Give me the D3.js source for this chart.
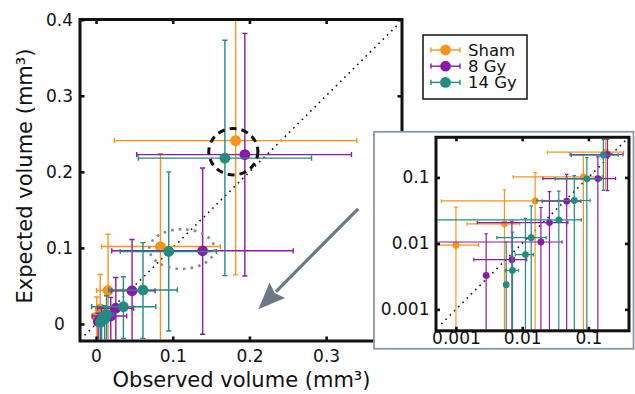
<!DOCTYPE html>
<html><head><meta charset="utf-8">
<script src="https://cdn.jsdelivr.net/npm/d3@7"></script>
<style>
body{margin:0;background:#fff}
svg{display:block}
text{font-family:"DejaVu Sans",Verdana,sans-serif;fill:#111}
</style>
</head><body>
<svg id="c" width="635" height="394"></svg>
<script>
// ---------- data ----------
const seriesNames = ["Sham", "8 Gy", "14 Gy"];
const seriesColors = ["#f7941e", "#8b1aa9", "#238a84"];
// rows: [observed, expected, observedLow, observedHigh, expectedLow, expectedHigh]
const shamData = [
  [0.0010, 0.0094, 0.0003, 0.0022, -0.03, 0.0355],
  [0.0054, 0.0198, 0.00147, 0.0092, -0.03, 0.065],
  [0.0157, 0.0440, 0.0006, 0.035, -0.03, 0.118],
  [0.0840, 0.1018, 0.0073, 0.162, -0.03, 0.224],
  [0.1820, 0.2410, 0.024, 0.340, 0.0645, 0.45]
];
const gy8Data = [
  [0.00286, 0.00327, null, null, -0.03, 0.014],
  [0.0070, 0.00567, 0.00186, 0.0117, -0.03, 0.0217],
  [0.0192, 0.0105, -0.005, 0.040, -0.03, 0.035],
  [0.0258, 0.0207, 0.0021, 0.049, -0.03, 0.061],
  [0.0470, 0.0437, 0.020, 0.077, -0.03, 0.111],
  [0.1390, 0.0962, 0.0205, 0.257, -0.0136, 0.205],
  [0.1940, 0.2226, 0.053, 0.333, 0.063, 0.382]
];
const gy14Data = [
  [0.00574, 0.00237, null, null, -0.03, 0.0105],
  [0.00714, 0.00389, 0.0056, 0.0088, -0.03, 0.0148],
  [0.0112, 0.00676, 0.00785, 0.0148, -0.03, 0.024],
  [0.0137, 0.0122, 0.00415, 0.023, -0.03, 0.037],
  [0.0357, 0.0227, -0.0057, 0.078, -0.019, 0.062],
  [0.0612, 0.0447, 0.0166, 0.106, -0.019, 0.107],
  [0.0948, 0.0953, 0.0315, 0.157, -0.0092, 0.200],
  [0.1680, 0.2180, 0.0552, 0.281, 0.0636, 0.373]
];
const linXTicks = [0, 0.1, 0.2, 0.3];
const linYTicks = [0, 0.1, 0.2, 0.3, 0.4];
const logTicks = [0.001, 0.01, 0.1];
const logTickLabels = ["0.001", "0.01", "0.1"];
const xTitle = "Observed volume (mm³)";
const yTitle = "Expected volume (mm³)";
// annotations, in data units of the main panel: [cx, cy, rx, ry]
const ringBlack = [0.179, 0.2265, 0.032, 0.0305];
const ringGray = [0.112, 0.0985, 0.0425, 0.026];
// arrow: [fromX, fromY, toX, toY]
const arrowData = [0.3416, 0.1513, 0.2116, 0.0193];
const diagMain = [-0.015, 0.393];
const diagLog = [0.0006, 0.36];

const allSeries = [shamData, gy8Data, gy14Data];

// ---------- setup ----------
const svg = d3.select("#c");
const defs = svg.append("defs");
const fmt = d => (d === 0 ? "0" : d3.format(".1f")(d));

// main scales
const x = d3.scaleLinear().domain([-0.0209, 0.3989]).range([80, 402]);
const y = d3.scaleLinear().domain([-0.0224, 0.4003]).range([341, 19.5]);

defs.append("clipPath").attr("id", "clipMain").append("rect")
  .attr("x", 81.5).attr("y", 21).attr("width", 319).attr("height", 318.5);

function drawPanel(g, xs, ys, rows, color, r, cap, sw, isLog) {
  const v = isLog ? (d => (d > 0 ? d : 1e-7)) : (d => d);
  const bars = g.append("g").attr("stroke", color).attr("stroke-width", sw).attr("fill", "none");
  rows.forEach(d => {
    const cx = xs(v(d[0])), cy = ys(v(d[1]));
    if (d[2] !== null) {
      const x0 = xs(v(d[2])), x1 = xs(v(d[3]));
      bars.append("line").attr("x1", x0).attr("x2", x1).attr("y1", cy).attr("y2", cy);
      bars.append("line").attr("x1", x0).attr("x2", x0).attr("y1", cy - cap).attr("y2", cy + cap);
      bars.append("line").attr("x1", x1).attr("x2", x1).attr("y1", cy - cap).attr("y2", cy + cap);
    }
    if (d[4] !== null) {
      const y0 = ys(v(d[4])), y1 = ys(v(d[5]));
      bars.append("line").attr("x1", cx).attr("x2", cx).attr("y1", y0).attr("y2", y1);
      bars.append("line").attr("x1", cx - cap).attr("x2", cx + cap).attr("y1", y0).attr("y2", y0);
      bars.append("line").attr("x1", cx - cap).attr("x2", cx + cap).attr("y1", y1).attr("y2", y1);
    }
  });
  g.append("g").selectAll("circle").data(rows).join("circle")
    .attr("cx", d => xs(v(d[0]))).attr("cy", d => ys(v(d[1])))
    .attr("r", r).attr("fill", color);
}

// ---------- main panel ----------
const main = svg.append("g");
const mainData = main.append("g").attr("clip-path", "url(#clipMain)");

// diagonal y = x
mainData.append("line")
  .attr("x1", x(diagMain[0])).attr("y1", y(diagMain[0]))
  .attr("x2", x(diagMain[1])).attr("y2", y(diagMain[1]))
  .attr("stroke", "#111").attr("stroke-width", 1.6).attr("stroke-dasharray", "1.6,4.4");

allSeries.forEach((rows, i) => drawPanel(mainData.append("g"), x, y, rows, seriesColors[i], 5.4, 2.6, 1.4, false));

// annotation rings
mainData.append("ellipse")
  .attr("cx", x(ringBlack[0])).attr("cy", y(ringBlack[1]))
  .attr("rx", x(ringBlack[0] + ringBlack[2]) - x(ringBlack[0]))
  .attr("ry", y(ringBlack[1]) - y(ringBlack[1] + ringBlack[3]))
  .attr("fill", "none").attr("stroke", "#111").attr("stroke-width", 3).attr("stroke-dasharray", "7,5");
mainData.append("ellipse")
  .attr("cx", x(ringGray[0])).attr("cy", y(ringGray[1]))
  .attr("rx", x(ringGray[0] + ringGray[2]) - x(ringGray[0]))
  .attr("ry", y(ringGray[1]) - y(ringGray[1] + ringGray[3]))
  .attr("fill", "none").attr("stroke", "#7f8d9b").attr("stroke-width", 2.6).attr("stroke-dasharray", "2.6,5");

// frame
main.append("rect").attr("x", 80).attr("y", 19.5).attr("width", 322).attr("height", 321.5)
  .attr("fill", "none").attr("stroke", "#111").attr("stroke-width", 3);

// axes (inward ticks)
function styleAxis(sel, showText) {
  sel.select(".domain").remove();
  sel.selectAll(".tick line").attr("stroke", "#111").attr("stroke-width", 2.6);
  if (!showText) sel.selectAll(".tick text").remove();
  else sel.selectAll(".tick text").attr("font-size", 17).attr("fill", "#111")
    .style("font-family", "'DejaVu Sans',Verdana,sans-serif");
}
main.append("g").attr("transform", "translate(0,341)")
  .call(d3.axisBottom(x).tickValues(linXTicks).tickSize(-4.5).tickPadding(8.5).tickFormat(fmt))
  .call(s => styleAxis(s, true));
main.append("g").attr("transform", "translate(0,19.5)")
  .call(d3.axisTop(x).tickValues(linXTicks).tickSize(-4.5))
  .call(s => styleAxis(s, false));
main.append("g").attr("transform", "translate(80,0)")
  .call(d3.axisLeft(y).tickValues(linYTicks).tickSize(-4.5).tickPadding(20.5).tickFormat(fmt))
  .call(s => styleAxis(s, true))
  .call(s => s.selectAll(".tick text").attr("text-anchor", "middle"));
main.append("g").attr("transform", "translate(402,0)")
  .call(d3.axisRight(y).tickValues(linYTicks).tickSize(-4.5))
  .call(s => styleAxis(s, false));

// axis titles
svg.append("text").attr("x", 241.5).attr("y", 387).attr("text-anchor", "middle")
  .attr("font-size", 21).text(xTitle);
svg.append("text").attr("transform", "translate(32,176) rotate(-90)").attr("text-anchor", "middle")
  .attr("font-size", 21).text(yTitle);

// ---------- arrow ----------
(function () {
  const x0 = x(arrowData[0]), y0 = y(arrowData[1]), x1 = x(arrowData[2]), y1 = y(arrowData[3]);
  const dx = x1 - x0, dy = y1 - y0, L = Math.hypot(dx, dy);
  const ux = dx / L, uy = dy / L, px = -uy, py = ux;
  const hl = 27, hw = 11;
  const bx = x1 - ux * hl, by = y1 - uy * hl;
  const col = "#6b7987";
  svg.append("line").attr("x1", x0).attr("y1", y0).attr("x2", bx + ux * 2).attr("y2", by + uy * 2)
    .attr("stroke", col).attr("stroke-width", 3.2);
  svg.append("path")
    .attr("d", `M${x1},${y1}L${bx + px * hw},${by + py * hw}L${bx + ux * 4},${by + uy * 4}L${bx - px * hw},${by - py * hw}Z`)
    .attr("fill", col);
})();

// ---------- inset (log-log) ----------
const lx = d3.scaleLog().domain([0.0005, 0.41]).range([436, 629]);
const ly = d3.scaleLog().domain([0.00047, 0.41]).range([331, 137]);

svg.append("rect").attr("x", 374).attr("y", 131.8).attr("width", 259.5).attr("height", 217)
  .attr("fill", "#fff").attr("stroke", "#8c99a6").attr("stroke-width", 1.8);

defs.append("clipPath").attr("id", "clipInset").append("rect")
  .attr("x", 437.5).attr("y", 138.5).attr("width", 190).attr("height", 191);

const inset = svg.append("g");
const insetData = inset.append("g").attr("clip-path", "url(#clipInset)");
insetData.append("line")
  .attr("x1", lx(diagLog[0])).attr("y1", ly(diagLog[0]))
  .attr("x2", lx(diagLog[1])).attr("y2", ly(diagLog[1]))
  .attr("stroke", "#111").attr("stroke-width", 1.6).attr("stroke-dasharray", "1.6,4.4");
allSeries.forEach((rows, i) => drawPanel(insetData.append("g"), lx, ly, rows, seriesColors[i], 3.4, 1.8, 1.2, true));

inset.append("rect").attr("x", 436).attr("y", 137.3).attr("width", 193).attr("height", 193.5)
  .attr("fill", "none").attr("stroke", "#111").attr("stroke-width", 3);

inset.append("g").attr("transform", "translate(0,330.8)")
  .call(d3.axisBottom(lx).tickValues(logTicks).tickSize(-4).tickPadding(1.5).tickFormat((d, i) => logTickLabels[i]))
  .call(s => styleAxis(s, true));
inset.append("g").attr("transform", "translate(0,137.3)")
  .call(d3.axisTop(lx).tickValues(logTicks).tickSize(-4))
  .call(s => styleAxis(s, false));
inset.append("g").attr("transform", "translate(436,0)")
  .call(d3.axisLeft(ly).tickValues(logTicks).tickSize(-4).tickPadding(6.5).tickFormat((d, i) => logTickLabels[i]))
  .call(s => styleAxis(s, true));
inset.append("g").attr("transform", "translate(629,0)")
  .call(d3.axisRight(ly).tickValues(logTicks).tickSize(-4))
  .call(s => styleAxis(s, false));

// ---------- legend ----------
const leg = svg.append("g");
leg.append("rect").attr("x", 423).attr("y", 35).attr("width", 104).attr("height", 64)
  .attr("fill", "#fff").attr("stroke", "#111").attr("stroke-width", 1.5);
seriesNames.forEach((name, i) => {
  const cy = 50 + i * 16.2, c = seriesColors[i];
  const gI = leg.append("g").attr("stroke", c).attr("stroke-width", 1.4);
  gI.append("line").attr("x1", 431).attr("x2", 460).attr("y1", cy).attr("y2", cy);
  gI.append("line").attr("x1", 431).attr("x2", 431).attr("y1", cy - 2.6).attr("y2", cy + 2.6);
  gI.append("line").attr("x1", 460).attr("x2", 460).attr("y1", cy - 2.6).attr("y2", cy + 2.6);
  leg.append("circle").attr("cx", 445.5).attr("cy", cy).attr("r", 5.4).attr("fill", c);
  leg.append("text").attr("x", 468).attr("y", cy + 5.6).attr("font-size", 16.5).text(name);
});
</script>
</body></html>
